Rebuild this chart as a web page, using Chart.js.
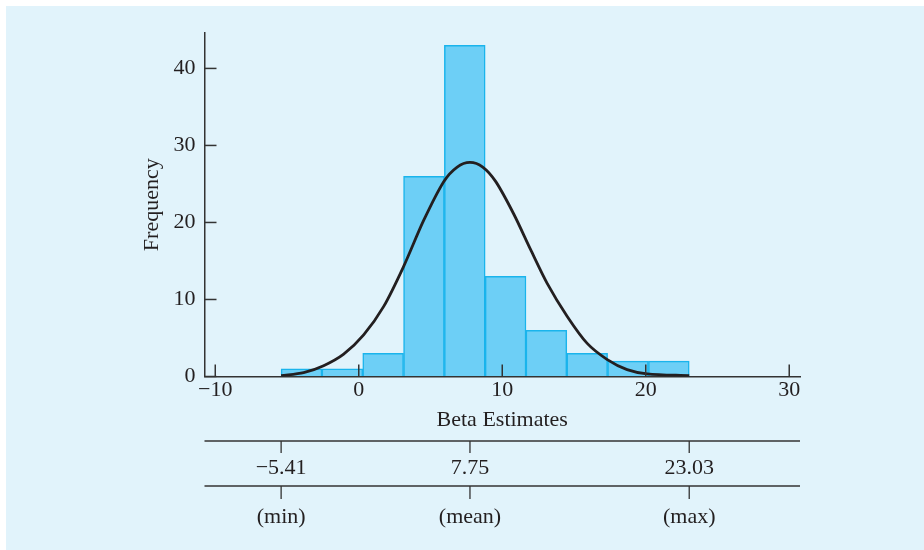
<!DOCTYPE html>
<html>
<head>
<meta charset="utf-8">
<script src="https://cdn.jsdelivr.net/npm/chart.js@4"></script>
<style>
  body { margin: 0; background: #ffffff; }
  canvas { display: block; }
</style>
</head>
<body>
<canvas id="chart" width="924" height="550"></canvas>
<script>
// histogram bins (edges) and counts
const binEdges = [-5.41, -2.566, 0.278, 3.122, 5.966, 8.81, 11.654, 14.498, 17.342, 20.186, 23.03];
const counts = [1, 1, 3, 26, 43, 13, 6, 3, 2, 2];

// fitted normal curve
const curveX = [-5.41, -3.84, -2.45, -1.05, 0.34, 1.74, 3.13, 4.53, 5.92, 6.86, 7.75, 8.64, 9.55, 10.8, 11.97, 13.13, 14.53, 15.92, 17.32, 18.7, 20.1, 23.03];
const curveY = [0.1, 0.5, 1.4, 2.9, 5.4, 9.1, 14.3, 20.3, 25.3, 27.2, 27.8, 27.2, 25.3, 21.1, 16.5, 12.1, 7.8, 4.3, 2.2, 0.9, 0.35, 0.1];

const xTicks = [-10, 0, 10, 20, 30];
const yTicks = [0, 10, 20, 30, 40];

// summary row under the axis
const statValues = [-5.41, 7.75, 23.03];
const statNames = ['(min)', '(mean)', '(max)'];

const FONT = 'Liberation Serif';
const INK = '#231f20';
const AXIS = '#333333';

const minus = s => String(s).replace('-', '\u2212');

const histData = counts.map((c, i) => ({ x: (binEdges[i] + binEdges[i + 1]) / 2, y: c }));
const curveData = curveX.map((x, i) => ({ x: x, y: curveY[i] }));

const extras = {
  id: 'extras',
  beforeDraw(chart) {
    const ctx = chart.ctx;
    ctx.save();
    ctx.fillStyle = '#e1f3fb';
    ctx.fillRect(6, 6, chart.width - 6, chart.height - 6);
    ctx.restore();
  },
  afterDraw(chart) {
    const ctx = chart.ctx;
    const xs = chart.scales.x, ys = chart.scales.y;
    const area = chart.chartArea;
    ctx.save();
    ctx.strokeStyle = AXIS;
    ctx.lineWidth = 1.5;
    // inward tick marks
    xTicks.forEach(v => {
      const px = xs.getPixelForValue(v);
      ctx.beginPath();
      ctx.moveTo(px, area.bottom);
      ctx.lineTo(px, area.bottom - 12);
      ctx.stroke();
    });
    yTicks.forEach(v => {
      const py = ys.getPixelForValue(v);
      ctx.beginPath();
      ctx.moveTo(area.left, py);
      ctx.lineTo(area.left + 12, py);
      ctx.stroke();
    });
    // summary table
    const top = 441, mid = 486;
    ctx.lineWidth = 1.3;
    [top, mid].forEach(y => {
      ctx.beginPath();
      ctx.moveTo(area.left, y);
      ctx.lineTo(area.right, y);
      ctx.stroke();
    });
    ctx.fillStyle = INK;
    ctx.font = '22px "' + FONT + '"';
    ctx.textAlign = 'center';
    ctx.textBaseline = 'middle';
    statValues.forEach((v, i) => {
      const px = xs.getPixelForValue(v);
      ctx.beginPath();
      ctx.moveTo(px, top);
      ctx.lineTo(px, top + 12);
      ctx.moveTo(px, mid);
      ctx.lineTo(px, mid + 13);
      ctx.stroke();
      ctx.fillText(minus(v.toFixed(2)), px, 468);
      ctx.fillText(statNames[i], px, 517);
    });
    ctx.restore();
  }
};

new Chart(document.getElementById('chart'), {
  type: 'bar',
  data: {
    datasets: [
      {
        type: 'line',
        data: curveData,
        borderColor: INK,
        borderWidth: 2.8,
        pointRadius: 0,
        tension: 0.3,
        fill: false,
        order: 0
      },
      {
        type: 'bar',
        data: histData,
        backgroundColor: '#6dcff6',
        borderColor: '#1ab4ec',
        borderWidth: 1.5,
        borderSkipped: 'start',
        barPercentage: 1,
        categoryPercentage: 1,
        grouped: false,
        order: 1
      }
    ]
  },
  options: {
    responsive: false,
    animation: false,
    layout: { padding: { left: 139, right: 124, top: 33, bottom: 117 } },
    plugins: { legend: { display: false }, tooltip: { enabled: false } },
    scales: {
      x: {
        type: 'linear',
        min: -10.75,
        max: 30.75,
        offset: false,
        z: 1,
        afterBuildTicks: s => { s.ticks = xTicks.map(v => ({ value: v })); },
        afterFit: s => { s.height = 56.5; },
        grid: { display: true, drawOnChartArea: false, drawTicks: false, offset: false },
        border: { display: true, color: AXIS, width: 1.5 },
        ticks: {
          padding: 1,
          maxRotation: 0,
          color: INK,
          font: { family: FONT, size: 22 },
          callback: v => minus(v)
        },
        title: {
          display: true,
          text: 'Beta Estimates',
          color: INK,
          padding: 0,
          font: { family: FONT, size: 22 }
        }
      },
      y: {
        min: 0,
        max: 44.6,
        z: 1,
        afterBuildTicks: s => { s.ticks = yTicks.map(v => ({ value: v })); },
        afterFit: s => { s.width = 65.5; },
        grid: { display: true, drawOnChartArea: false, drawTicks: false },
        border: { display: true, color: AXIS, width: 1.5 },
        ticks: {
          padding: 9,
          color: INK,
          font: { family: FONT, size: 22 }
        },
        title: {
          display: true,
          text: 'Frequency',
          color: INK,
          padding: 0,
          font: { family: FONT, size: 22 }
        }
      }
    }
  },
  plugins: [extras]
});
</script>
</body>
</html>
